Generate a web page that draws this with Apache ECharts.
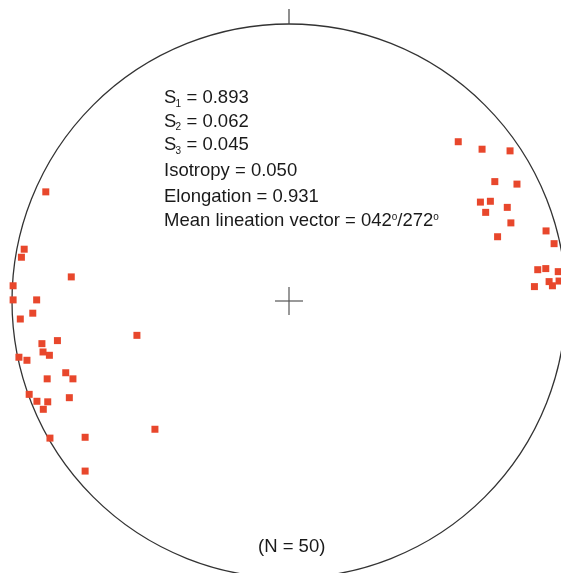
<!DOCTYPE html>
<html>
<head>
<meta charset="utf-8">
<script src="https://cdn.jsdelivr.net/npm/echarts@6/dist/echarts.min.js"></script>
<style>
html,body{margin:0;padding:0;background:#fff;}
#chart{width:561px;height:573px;}
</style>
</head>
<body>
<div id="chart"></div>
<script>
// Projected lineation positions on the net (unit circle coordinates)
const westX = [-0.878,-0.956,-0.966,-0.786,-0.996,-0.996,-0.911,-0.925,-0.970,-0.549,-0.892,-0.836,-0.888,-0.865,-0.975,-0.946,-0.806,-0.780,-0.873,-0.938,-0.910,-0.871,-0.793,-0.887,-0.863,-0.736,-0.484,-0.736];
const westY = [0.394,0.187,0.158,0.087,0.055,0.004,0.004,-0.044,-0.065,-0.124,-0.154,-0.143,-0.184,-0.196,-0.203,-0.214,-0.259,-0.281,-0.281,-0.337,-0.362,-0.364,-0.349,-0.391,-0.495,-0.492,-0.463,-0.614];
const eastX = [0.611,0.697,0.798,0.743,0.823,0.691,0.727,0.710,0.788,0.801,0.753,0.928,0.957,0.898,0.927,0.972,0.939,0.951,0.975,0.886];
const eastY = [0.575,0.548,0.542,0.431,0.422,0.357,0.360,0.320,0.338,0.282,0.232,0.253,0.207,0.113,0.117,0.106,0.070,0.055,0.072,0.052];

const statSubs = ['1','2','3'];
const statValues = ['0.893','0.062','0.045'];
const isotropy = '0.050';
const elongation = '0.931';
const meanTrend = '042';
const meanPlunge = '272';
const nCount = 50;

const points = westX.map((x,i)=>[x,westY[i]]).concat(eastX.map((x,i)=>[x,eastY[i]]));

const chart = echarts.init(document.getElementById('chart'));
const FONT = '"Liberation Sans", Arial, sans-serif';
const TXT = '#1a1a1a';
const FS = 18.5;
const textX = 164;
const baselines = [104, 127.7, 151, 177.3, 202.7, 227.3];
const topOf = b => b - 15.5;

const graphics = [];
statSubs.forEach((sub, i) => {
  const b = baselines[i];
  graphics.push({type:'text', left:textX, top:topOf(b), style:{text:'S', fontSize:FS, fontFamily:FONT, fill:TXT}});
  graphics.push({type:'text', left:textX + 11.5, top:b + 3.5 - 8.5, style:{text:sub, fontSize:10, fontFamily:FONT, fill:TXT}});
  graphics.push({type:'text', left:textX + 22.5, top:topOf(b), style:{text:'= ' + statValues[i], fontSize:FS, fontFamily:FONT, fill:TXT}});
});
graphics.push({type:'text', left:textX, top:topOf(baselines[3]), style:{text:'Isotropy = ' + isotropy, fontSize:FS, fontFamily:FONT, fill:TXT}});
graphics.push({type:'text', left:textX, top:topOf(baselines[4]), style:{text:'Elongation = ' + elongation, fontSize:FS, fontFamily:FONT, fill:TXT}});
graphics.push({
  type:'text', left:textX, top:topOf(baselines[5]),
  style:{
    text:'{a|Mean lineation vector = ' + meanTrend + '}{o|o}{a|/' + meanPlunge + '}{o|o}',
    rich:{
      a:{fontSize:FS, fontFamily:FONT, fill:TXT, lineHeight:FS},
      o:{fontSize:10, fontFamily:FONT, fill:TXT, verticalAlign:'top', lineHeight:10}
    }
  }
});
graphics.push({type:'text', left:258, top:537, style:{text:'(N = ' + nCount + ')', fontSize:FS, fontFamily:FONT, fill:TXT}});

const option = {
  animation: false,
  backgroundColor: '#fff',
  grid: {left: 12, top: 24, width: 554, height: 554, outerBoundsMode: 'none', containLabel: false},
  xAxis: {type:'value', min:-1, max:1, show:false},
  yAxis: {type:'value', min:-1, max:1, show:false},
  graphic: graphics,
  series: [
    {
      type: 'custom',
      data: [[0,0]],
      silent: true,
      clip: false,
      z: 1,
      renderItem: function(params, api){
        const c = api.coord([0,0]);
        const e = api.coord([1,0]);
        const r = e[0] - c[0];
        const arm = 14;
        return {
          type:'group',
          children:[
            {type:'circle', shape:{cx:c[0], cy:c[1], r:r}, style:{fill:'none', stroke:'#333', lineWidth:1.3}},
            {type:'line', shape:{x1:c[0]-arm, y1:c[1], x2:c[0]+arm, y2:c[1]}, style:{stroke:'#555', lineWidth:1.2}},
            {type:'line', shape:{x1:c[0], y1:c[1]-arm, x2:c[0], y2:c[1]+arm}, style:{stroke:'#555', lineWidth:1.2}},
            {type:'line', shape:{x1:c[0], y1:c[1]-r, x2:c[0], y2:c[1]-r-15}, style:{stroke:'#444', lineWidth:1.2}}
          ]
        };
      }
    },
    {
      type: 'scatter',
      data: points,
      symbol: 'rect',
      symbolSize: 7,
      clip: false,
      itemStyle: {color: '#e8472c', opacity: 1},
      z: 3
    }
  ]
};
chart.setOption(option);
</script>
</body>
</html>
